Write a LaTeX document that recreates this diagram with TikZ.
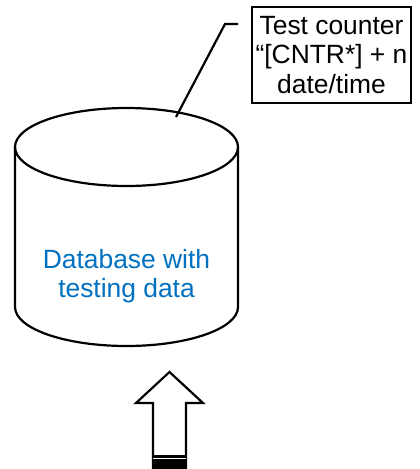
\documentclass[tikz,border=0pt]{standalone}
\usepackage{fontspec}
\setmainfont{Liberation Sans}
\definecolor{dbblue}{HTML}{0070C0}
\begin{document}
\begin{tikzpicture}[x=1pt,y=-1pt,
  outline/.style={draw=black,line width=2.2pt,line join=miter},
  txt/.style={font=\fontsize{26.4}{29.5}\selectfont,align=center,inner sep=0pt}]
\useasboundingbox (0,0) rectangle (420,469);
% cylinder
\draw[outline,fill=white] (15,147) -- (15,307) arc[start angle=180,end angle=0,x radius=111.5,y radius=39] -- (238,147);
\draw[outline] (126.5,147) ellipse[x radius=111.5,y radius=39];
\node[txt,text=dbblue] (db) at (126.5,276) {Database with\\testing data};
% note box
\node[txt,draw=black,line width=2.2pt,minimum width=159pt,minimum height=96pt] (note) at (331.5,55) {Test counter\\“[CNTR*] + n\\date/time};
\coordinate (l0) at (238,24);
\coordinate (l1) at (225,24);
\coordinate (l2) at (176,117);
\draw[outline] (l0) -- (l1) -- (l2);
% block arrow
\coordinate (tip) at (169.5,372);
\draw[outline,fill=white] (153,469) -- (153,403) -- (136,403) -- (tip) -- (203,403) -- (186,403) -- (186,469);
\fill[black] (152,455) rectangle (187,469);
\draw[white,line width=1.2pt] (153,458.5) -- (186,458.5);
\end{tikzpicture}
\end{document}
